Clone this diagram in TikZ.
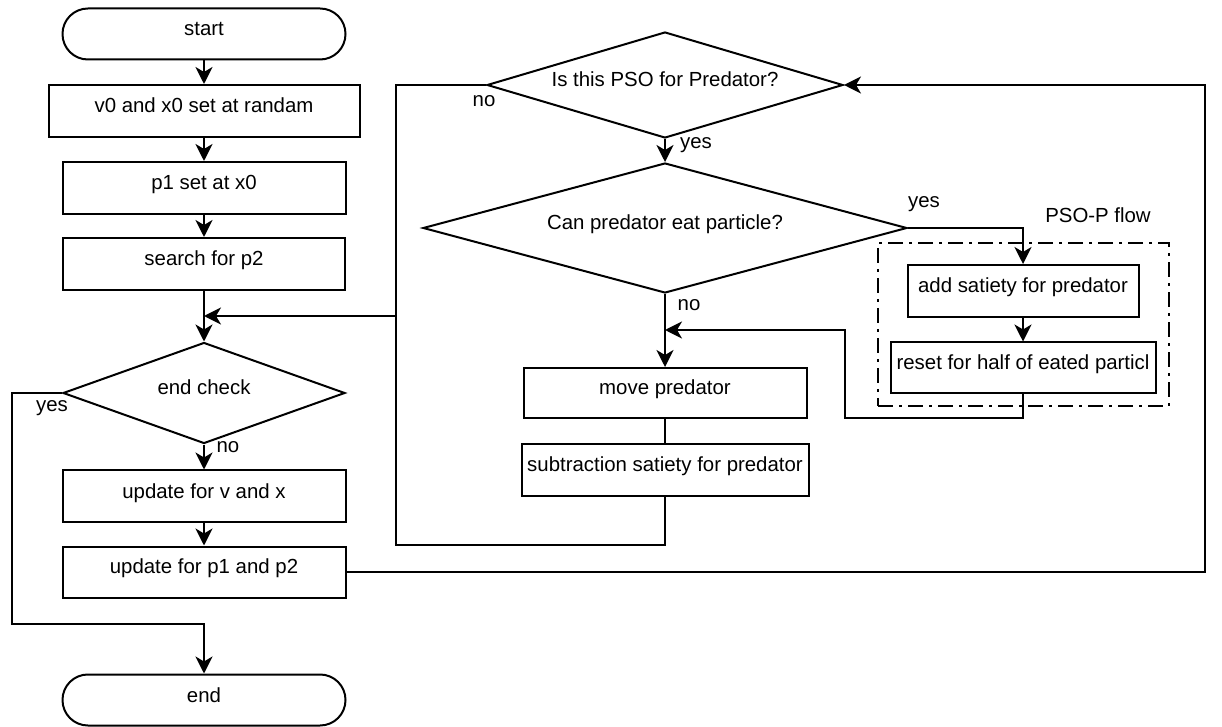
\documentclass[tikz,border=0pt]{standalone}
\usepackage{fontspec}
\setmainfont{Liberation Sans}
\usetikzlibrary{arrows.meta,shapes.geometric}

\begin{document}
\begin{tikzpicture}[x=0.5pt, y=-0.5pt,
  every node/.style={font=\fontsize{10.2}{12}\selectfont},
  box/.style={draw, line width=1pt, minimum height=26pt, inner sep=0pt, text height=0.7em, text depth=0.5em},
  term/.style={box, rounded corners=12.7pt, minimum height=25.5pt},
  check/.style={draw, diamond, line width=1pt, inner sep=0pt, text height=0.7em, text depth=0.5em},
  flow/.style={line width=1pt, -{Stealth[length=8.5pt, width=8.5pt, inset=2.5pt]}},
  line/.style={line width=1pt}]
\useasboundingbox (0,0) rectangle (1222,727);

% main PSO loop
\node[term, minimum width=141.5pt] (start) at (204,34) {start};
\node[box, minimum width=155.5pt] (init) at (204,111) {v0 and x0 set at randam};
\node[box, minimum width=141.5pt] (pbest) at (204,188) {p1 set at x0};
\node[box, minimum width=141pt] (gbest) at (204,264) {search for p2};
\node[check, minimum width=141pt, minimum height=50.5pt, aspect=2.8] (endck) at (204,393) {end check};
\node[box, minimum width=141.5pt, minimum height=25.5pt] (updvx) at (204,496) {update for v and x};
\node[box, minimum width=141.5pt, minimum height=25.5pt] (updp) at (204,572) {update for p1 and p2};
\node[term, minimum width=141.5pt] (stop) at (204,700) {end};
\coordinate (join) at (204,316);

% predator part
\node[check, minimum width=178pt, minimum height=53pt, aspect=3.36] (ispso) at (665,85) {Is this PSO for Predator?};
\node[check, minimum width=242pt, minimum height=65pt, aspect=3.7] (caneat) at (665,228) {Can predator eat particle?};
\node[box, minimum width=141.5pt, minimum height=25pt] (move) at (665,393) {move predator};
\node[box, minimum width=143.5pt] (subsat) at (665,470) {subtraction satiety for predator};
\coordinate (merge) at (665,330);

% PSO-P flow
\node[draw, line width=1pt, dash pattern=on 7.5pt off 3pt on 1.5pt off 3pt,
  minimum width=145.5pt, minimum height=81.5pt] (group) at (1023.5,324.5) {};
\node (grouplbl) at (1098,215) {PSO-P flow};
\node[box, minimum width=115.5pt] (addsat) at (1023,291) {add satiety for predator};
\node[box, minimum width=132.5pt, minimum height=25.5pt] (reset) at (1023,368) {reset for half of eated particl};

\draw[flow] (start) -- (init);
\draw[flow] (init) -- (pbest);
\draw[flow] (pbest) -- (gbest);
\draw[flow] (gbest) -- (endck);
\draw[flow] (endck) -- (updvx);
\draw[flow] (updvx) -- (updp);
\draw[flow] (endck.west) -| (12,624) -| (stop);
\draw[flow] (updp.east) -| (1205,85) -- (ispso.east);
\draw[flow] (ispso.west) -| (396,316) -- (join);
\draw[line] (subsat) |- (396,545) -- (396,316);
\draw[flow] (ispso) -- (caneat);
\draw[flow] (caneat.east) -| (addsat);
\draw[flow] (addsat) -- (reset);
\draw[flow] (reset) |- (845,418) |- (merge);
\draw[flow] (caneat) -- (move);
\draw[line] (move) -- (subsat);

% branch labels
\node (yesend) at (52,408) {yes};
\node (noend) at (228,447) {no};
\node (nopso) at (484,101) {no};
\node (yespso) at (696,145) {yes};
\node (noeat) at (689,305) {no};
\node (yeseat) at (924,204) {yes};
\end{tikzpicture}
\end{document}
